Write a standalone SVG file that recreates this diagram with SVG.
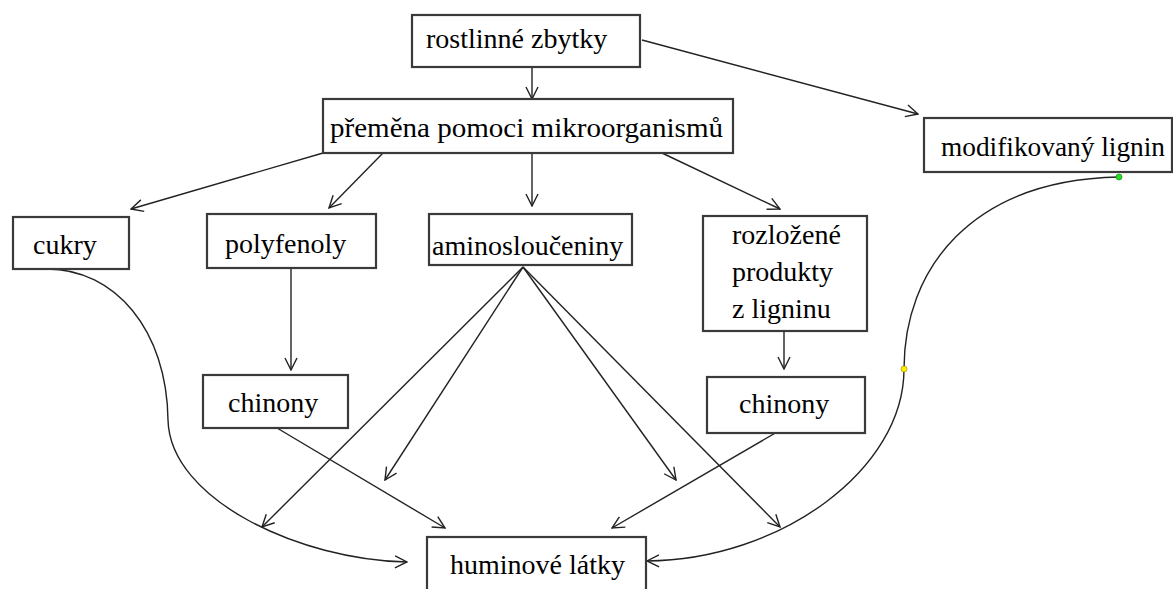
<svg xmlns="http://www.w3.org/2000/svg" width="1173" height="589" viewBox="0 0 1173 589">
<defs>
<marker id="arr" viewBox="-13 -7 14 14" refX="0" refY="0" markerWidth="14" markerHeight="14" markerUnits="userSpaceOnUse" orient="auto">
<path d="M-12,-6 L0,0 L-12,6" fill="none" stroke="#222" stroke-width="1.4"/>
</marker>
<style>
.box{fill:#fff;stroke:#3a3a3a;stroke-width:2.2}
.t{font-family:"Liberation Serif","Times New Roman",serif;font-size:28px;fill:#000}
.c{fill:none;stroke:#222;stroke-width:1.4;marker-end:url(#arr)}
</style>
</defs>
<rect width="1173" height="589" fill="#fff"/>
<g id="connectors">
<line class="c" x1="532" y1="67" x2="532" y2="99"/>
<line class="c" x1="532" y1="153" x2="532" y2="206"/>
<line class="c" x1="642" y1="40" x2="918" y2="114"/>
<line class="c" x1="323" y1="153" x2="131" y2="209"/>
<line class="c" x1="383" y1="153" x2="329" y2="208"/>
<line class="c" x1="662" y1="153" x2="780" y2="209"/>
<line class="c" x1="291" y1="268" x2="291" y2="370"/>
<line class="c" x1="784" y1="331" x2="784" y2="369"/>
<line class="c" x1="523" y1="267" x2="262" y2="527"/>
<line class="c" x1="523" y1="267" x2="385" y2="480"/>
<line class="c" x1="523" y1="267" x2="676" y2="480"/>
<line class="c" x1="523" y1="267" x2="780" y2="527"/>
<line class="c" x1="277" y1="428" x2="445" y2="528"/>
<line class="c" x1="784" y1="428" x2="612" y2="528"/>
<path class="c" d="M47,269 C115,269 167,330 168,420 C170,500 300,560 407,562"/>
<path class="c" d="M1119,177 C970,180 904,270 904,369 C904,470 780,560 647,561"/>
<circle cx="1119" cy="177" r="3" fill="#22dd22" stroke="#117711" stroke-width="0.6"/>
<circle cx="904" cy="369" r="3" fill="#ffee00" stroke="#998800" stroke-width="0.6"/>
<circle cx="642" cy="561" r="3" fill="#22dd22" stroke="#117711" stroke-width="0.6"/>
</g>
<g id="rostlinne"><rect class="box" x="412" y="15" width="228" height="52"/><text class="t" x="426" y="48">rostlinné zbytky</text></g>
<g id="premena"><rect class="box" x="323" y="99" width="410" height="54"/><text class="t" x="330" y="137" textLength="393" lengthAdjust="spacingAndGlyphs">přeměna pomoci mikroorganismů</text></g>
<g id="lignin"><rect class="box" x="924" y="118" width="248" height="54"/><text class="t" x="941" y="156" textLength="224" lengthAdjust="spacingAndGlyphs">modifikovaný lignin</text></g>
<g id="cukry"><rect class="box" x="13" y="217" width="116" height="52"/><text class="t" x="33" y="254">cukry</text></g>
<g id="polyfenoly"><rect class="box" x="207" y="214" width="169" height="54"/><text class="t" x="225" y="253">polyfenoly</text></g>
<g id="amino"><rect class="box" x="429" y="214" width="203" height="51"/><text class="t" x="432" y="255">aminosloučeniny</text></g>
<g id="rozlozene"><rect class="box" x="703" y="216" width="164" height="115"/><text class="t" x="732" y="244">rozložené</text><text class="t" x="732" y="281">produkty</text><text class="t" x="732" y="318">z ligninu</text></g>
<g id="chinony1"><rect class="box" x="203" y="375" width="145" height="53"/><text class="t" x="228" y="412">chinony</text></g>
<g id="chinony2"><rect class="box" x="707" y="377" width="158" height="56"/><text class="t" x="739" y="413">chinony</text></g>
<g id="huminove"><rect class="box" x="427" y="537" width="219" height="70"/><text class="t" x="450" y="574">huminové látky</text></g>
</svg>
